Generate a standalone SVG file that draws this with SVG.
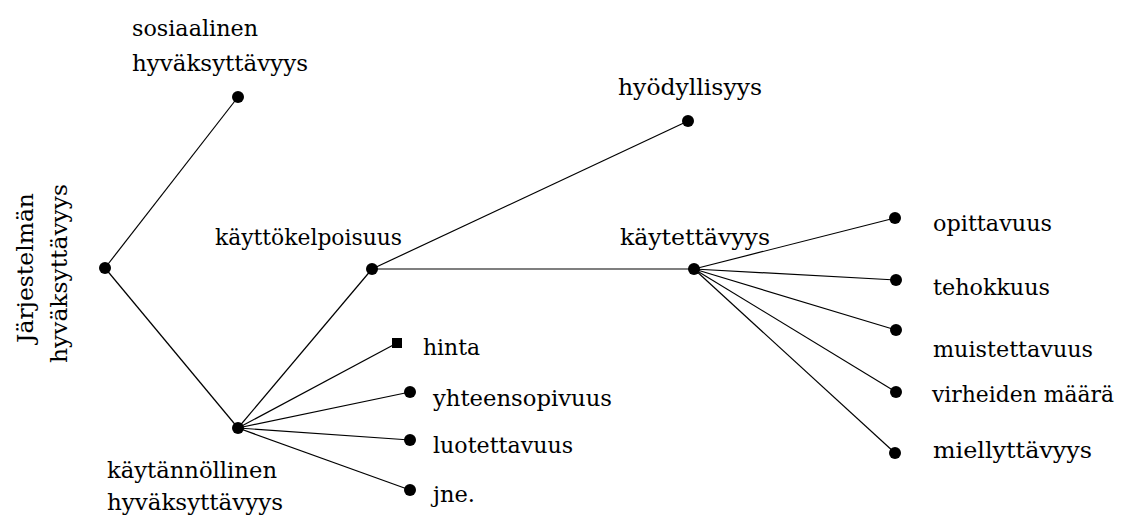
<svg xmlns="http://www.w3.org/2000/svg" width="1122" height="517" viewBox="0 0 1122 517">
<style>
text{font-family:"DejaVu Serif","Liberation Serif",serif;font-size:23px;fill:#000}
.dot{fill:#000}
.c line{stroke:#000;stroke-width:1.2}
</style>
<rect width="1122" height="517" fill="#fff"/>
<g class="c" id="connectors">
<line x1="105" y1="268" x2="238" y2="97"/>
<line x1="105" y1="268" x2="238" y2="428"/>
<line x1="238" y1="428" x2="372" y2="269"/>
<line x1="238" y1="428" x2="397" y2="343"/>
<line x1="238" y1="428" x2="410" y2="392"/>
<line x1="238" y1="428" x2="410" y2="440"/>
<line x1="238" y1="428" x2="410" y2="490"/>
<line x1="372" y1="269" x2="688" y2="121"/>
<line x1="372" y1="269" x2="694" y2="269"/>
<line x1="694" y1="269" x2="895" y2="218"/>
<line x1="694" y1="269" x2="896" y2="280"/>
<line x1="694" y1="269" x2="896" y2="330"/>
<line x1="694" y1="269" x2="896" y2="392"/>
<line x1="694" y1="269" x2="895" y2="453"/>
</g>
<g id="root"><circle class="dot" cx="105" cy="268" r="6"/>
<text transform="translate(33,343) rotate(-90)" textLength="150" lengthAdjust="spacingAndGlyphs">Järjestelmän</text>
<text transform="translate(67,363) rotate(-90)" textLength="179" lengthAdjust="spacingAndGlyphs">hyväksyttävyys</text></g>
<g id="sosiaalinen"><circle class="dot" cx="238" cy="97" r="6"/>
<text x="132" y="36" textLength="126" lengthAdjust="spacingAndGlyphs">sosiaalinen</text>
<text x="132" y="71" textLength="176" lengthAdjust="spacingAndGlyphs">hyväksyttävyys</text></g>
<g id="kaytannollinen"><circle class="dot" cx="238" cy="428" r="6"/>
<text x="107" y="478" textLength="170" lengthAdjust="spacingAndGlyphs">käytännöllinen</text>
<text x="107" y="510" textLength="176" lengthAdjust="spacingAndGlyphs">hyväksyttävyys</text></g>
<g id="kayttokelpoisuus"><circle class="dot" cx="372" cy="269" r="6"/>
<text x="215" y="245" textLength="187" lengthAdjust="spacingAndGlyphs">käyttökelpoisuus</text></g>
<g id="hyodyllisyys"><circle class="dot" cx="688" cy="121" r="6"/>
<text x="618" y="95" textLength="144" lengthAdjust="spacingAndGlyphs">hyödyllisyys</text></g>
<g id="kaytettavyys"><circle class="dot" cx="694" cy="269" r="6"/>
<text x="620" y="245" textLength="150" lengthAdjust="spacingAndGlyphs">käytettävyys</text></g>
<g id="hinta"><rect class="dot" x="392" y="338" width="10" height="10"/>
<text x="423" y="355" textLength="57" lengthAdjust="spacingAndGlyphs">hinta</text></g>
<g id="yhteensopivuus"><circle class="dot" cx="410" cy="392" r="6"/>
<text x="433" y="406" textLength="179" lengthAdjust="spacingAndGlyphs">yhteensopivuus</text></g>
<g id="luotettavuus"><circle class="dot" cx="410" cy="440" r="6"/>
<text x="433" y="453" textLength="140" lengthAdjust="spacingAndGlyphs">luotettavuus</text></g>
<g id="jne"><circle class="dot" cx="410" cy="490" r="6"/>
<text x="433" y="502" textLength="42" lengthAdjust="spacingAndGlyphs">jne.</text></g>
<g id="opittavuus"><circle class="dot" cx="895" cy="218" r="6"/>
<text x="933" y="231" textLength="119" lengthAdjust="spacingAndGlyphs">opittavuus</text></g>
<g id="tehokkuus"><circle class="dot" cx="896" cy="280" r="6"/>
<text x="933" y="295" textLength="117" lengthAdjust="spacingAndGlyphs">tehokkuus</text></g>
<g id="muistettavuus"><circle class="dot" cx="896" cy="330" r="6"/>
<text x="933" y="357" textLength="160" lengthAdjust="spacingAndGlyphs">muistettavuus</text></g>
<g id="virheiden"><circle class="dot" cx="896" cy="392" r="6"/>
<text x="932" y="402" textLength="182" lengthAdjust="spacingAndGlyphs">virheiden määrä</text></g>
<g id="miellyttavyys"><circle class="dot" cx="895" cy="453" r="6"/>
<text x="933" y="458" textLength="159" lengthAdjust="spacingAndGlyphs">miellyttävyys</text></g>
</svg>
